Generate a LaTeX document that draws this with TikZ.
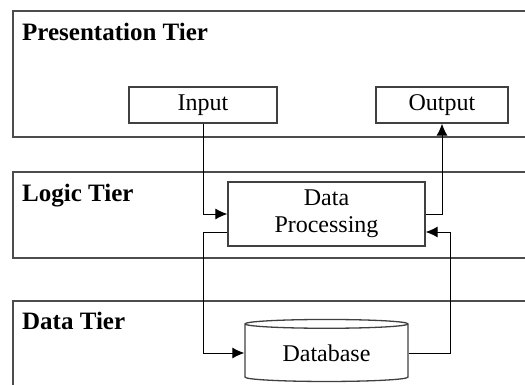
\documentclass[tikz,border=0pt]{standalone}
\usepackage{fontspec}
\setmainfont{Liberation Serif}
\usetikzlibrary{shapes,positioning,arrows.meta}

\begin{document}
\begin{tikzpicture}[x=1pt, y=-1pt, >={Latex[length=12pt,width=11pt]},
  tier/.style={draw=black!70, line width=1.3pt},
  tiername/.style={anchor=base west, inner sep=0pt, font=\fontsize{25}{29}\selectfont\bfseries},
  part/.style={draw=black!75, line width=1.3pt, font=\fontsize{24}{27}\selectfont, align=center, inner sep=0pt},
  link/.style={line width=1pt}]
  \useasboundingbox (0,0) rectangle (525,385);
  \clip (0,0) rectangle (525,385);
  % the three tiers
  \draw[tier] (13,400) |- (540,301);
  \draw[tier] (540,172) -| (13,258) -- (540,258);
  \draw[tier] (540,11) -| (13,137) -- (540,137);
  \node[tiername] (PT) at (22,41) {Presentation Tier};
  \node[tiername] (LT) at (22,201) {Logic Tier};
  \node[tiername] (DT) at (22,329) {Data Tier};
  % parts
  \node[part, minimum width=148pt, minimum height=36pt] (IN) at (203,105) {Input};
  \node[part, minimum width=132pt, minimum height=36pt] (OUT) at (442,105) {Output};
  \node[part, minimum width=197pt, minimum height=64pt] (DP) at (326.5,214) {Data\\Processing};
  \node[part, cylinder, shape border rotate=90, aspect=0.1, minimum width=163pt, minimum height=62pt] (DB) at (326.5,353) {\raisebox{-10pt}{Database}};
  % connectors
  \draw[link, ->] (IN.south) |- (DP.west);
  \draw[link, ->] (DP.east) -| (OUT.south);
  \draw[link, ->] ([yshift=-18pt]DP.west) -| (IN.south |- DB.west) -- (DB.west);
  \draw[link, ->] (DB.east) -| ([xshift=25pt,yshift=-18pt]DP.east) -- ([yshift=-18pt]DP.east);
\end{tikzpicture}
\end{document}
